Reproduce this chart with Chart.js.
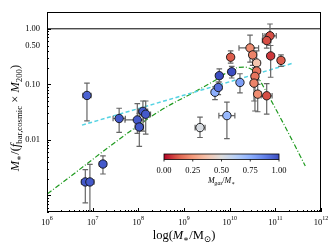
<!DOCTYPE html>
<html><head><meta charset="utf-8">
<script src="https://cdn.jsdelivr.net/npm/chart.js@4"></script>
<style>html,body{margin:0;padding:0;background:#fff;}#wrap{width:329px;height:248px;position:relative;}</style>
</head><body><div id="wrap"><canvas id="c" width="329" height="248"></canvas></div>
<script>
// ---- data ----
const stellarMass   = [7.5e6, 6.9e6, 8.7e6, 1.68e7, 3.8e7, 9.5e7, 1.26e8, 1.45e8, 1.05e8, 2.24e9, 8.7e9, 4.77e9, 5.64e9, 5.93e9, 1.11e10, 1.68e10, 1.05e10, 2.79e10, 3.19e10, 3.9e10, 3.9e10, 3.58e10, 3.41e10, 4.11e10, 6.47e10, 7.64e10, 6.47e10, 7.9e10, 1.33e11];
const stellarMassLo = [6.1e6, 5.7e6, 7.1e6, 1.4e7, 2.8e7, 5.1e7, 1.0e8, 1.15e8, 8.5e7, 1.75e9, 5.8e9, 4.0e9, 4.8e9, 5.0e9, 9.3e9, 1.45e10, 9.0e9, 1.6e10, 2.7e10, 3.3e10, 3.3e10, 3.0e10, 2.9e10, 3.5e10, 4.9e10, 5.3e10, 5.2e10, 6.7e10, 1.13e11];
const stellarMassHi = [9.2e6, 8.4e6, 1.07e7, 2.0e7, 5.2e7, 1.3e8, 1.6e8, 1.85e8, 1.3e8, 2.9e9, 1.3e10, 5.7e9, 6.7e9, 7.0e9, 1.33e10, 1.95e10, 1.22e10, 4.3e10, 3.8e10, 4.6e10, 4.6e10, 4.2e10, 4.0e10, 4.9e10, 8.5e10, 1.05e11, 8.0e10, 9.3e10, 1.57e11];
const ratio   = [0.063, 0.00174, 0.00174, 0.00366, 0.0242, 0.0228, 0.0325, 0.0289, 0.0170, 0.0166, 0.0273, 0.0719, 0.0877, 0.143, 0.168, 0.108, 0.308, 0.452, 0.338, 0.242, 0.174, 0.139, 0.105, 0.0665, 0.0621, 0.748, 0.614, 0.325, 0.270];
const ratioLo = [0.022, 0.00073, 0.0002, 0.00242, 0.0136, 0.013, 0.0143, 0.0127, 0.0076, 0.011, 0.0105, 0.053, 0.065, 0.11, 0.13, 0.07, 0.24, 0.25, 0.22, 0.12, 0.12, 0.033, 0.05, 0.032, 0.029, 0.5, 0.45, 0.134, 0.21];
const ratioHi = [0.105, 0.0029, 0.0036, 0.00515, 0.037, 0.045, 0.05, 0.05, 0.03, 0.0257, 0.0476, 0.09, 0.11, 0.19, 0.21, 0.155, 0.40, 0.77, 0.45, 0.40, 0.24, 0.20, 0.15, 0.10, 0.103, 1.22, 0.80, 0.50, 0.34];
const gasFraction = [0.95, 0.97, 0.97, 0.97, 0.97, 0.97, 0.97, 0.97, 0.97, 0.52, 0.72, 0.75, 0.92, 1.0, 1.0, 0.8, 0.12, 0.22, 0.2, 0.38, 0.17, 0.17, 0.2, 0.22, 0.1, 0.1, 0.1, 0.07, 0.12];

const cyanLineMass  = [5.83e6, 2.37e11];
const cyanLineRatio = [0.01837, 0.239];
const greenCurveMass  = [1.026e6, 2.98e8, 1.742e9, 6.14e9, 1.016e10, 1.52e10, 2.16e10, 2.79e10, 3.58e10, 4.61e10, 1.07e11, 2.09e11, 4.53e11];
const greenCurveRatio = [1.069e-3, 0.0333, 0.0736, 0.1337, 0.178, 0.2004, 0.204, 0.192, 0.1644, 0.1172, 0.0333, 0.01172, 0.00338];
const unityLineMass  = [1e6, 1e12];
const unityLineRatio = [1, 1];

const xTickExponents = [6, 7, 8, 9, 10, 11, 12];
const yTickValues = [0.01, 0.1, 0.5, 1];
const yTickLabels = ['0.01', '0.10', '0.50', '1.00'];
const colorbarTicks = [0, 0.25, 0.5, 0.75, 1];
const colorbarTickLabels = ['0.00', '0.25', '0.50', '0.75', '1.00'];

// ---- styling ----
const SERIF = '"Liberation Serif", "DejaVu Serif", serif';
const coolwarm = [[59,76,192],[98,130,234],[141,176,254],[184,208,249],[221,221,221],[245,196,173],[244,154,123],[222,96,77],[180,4,38]];
function cmap(v) { // coolwarm reversed: 0 -> red, 1 -> blue
  const t = Math.min(1, Math.max(0, 1 - v)) * (coolwarm.length - 1);
  const i = Math.min(coolwarm.length - 2, Math.floor(t)), f = t - i;
  const a = coolwarm[i], b = coolwarm[i + 1];
  return `rgb(${a.map((c, k) => Math.round(c + (b[k] - c) * f)).join(',')})`;
}
const pts = (xs, ys) => xs.map((x, i) => ({x, y: ys[i]}));

function segFont(st, size) {
  const small = st.includes('sub') || st.includes('sup');
  const it = st.startsWith('i');
  return `${it ? 'italic ' : ''}${(small ? size * 0.7 : size).toFixed(2)}px ${SERIF}`;
}
function richWidth(ctx, segs, size) {
  let w = 0;
  for (const [t, st] of segs) { ctx.font = segFont(st, size); w += ctx.measureText(t).width; }
  return w;
}
function drawRich(ctx, segs, size, cx, baseline) {
  let x = cx - richWidth(ctx, segs, size) / 2;
  ctx.textAlign = 'left'; ctx.textBaseline = 'alphabetic';
  for (const [t, st] of segs) {
    ctx.font = segFont(st, size);
    let dy = 0;
    if (st.includes('sub')) dy = size * 0.22;
    if (st.includes('sup')) dy = -size * 0.38;
    ctx.fillText(t, x, baseline + dy);
    x += ctx.measureText(t).width;
  }
}

const errorBars = {
  id: 'errorBars',
  beforeDatasetDraw(chart, args) {
    if (args.index !== 0) return;
    const {ctx, chartArea: a, scales: {x, y}} = chart;
    ctx.save();
    ctx.beginPath(); ctx.rect(a.left, a.top, a.width, a.height); ctx.clip();
    ctx.strokeStyle = '#666'; ctx.lineWidth = 1.2;
    const cap = 2.8;
    stellarMass.forEach((m, i) => {
      const px = x.getPixelForValue(m), py = y.getPixelForValue(ratio[i]);
      const x0 = x.getPixelForValue(stellarMassLo[i]), x1 = x.getPixelForValue(stellarMassHi[i]);
      const y0 = y.getPixelForValue(ratioLo[i]), y1 = y.getPixelForValue(ratioHi[i]);
      ctx.beginPath();
      ctx.moveTo(x0, py); ctx.lineTo(x1, py);
      ctx.moveTo(px, y0); ctx.lineTo(px, y1);
      ctx.moveTo(x0, py - cap); ctx.lineTo(x0, py + cap);
      ctx.moveTo(x1, py - cap); ctx.lineTo(x1, py + cap);
      ctx.moveTo(px - cap, y0); ctx.lineTo(px + cap, y0);
      ctx.moveTo(px - cap, y1); ctx.lineTo(px + cap, y1);
      ctx.stroke();
    });
    ctx.restore();
  }
};

const decorations = {
  id: 'decorations',
  afterDraw(chart) {
    const {ctx, chartArea: a, scales: {x, y}} = chart;
    ctx.save();
    ctx.strokeStyle = '#000'; ctx.lineWidth = 1;
    ctx.strokeRect(Math.round(a.left) + 0.5, Math.round(a.top) + 0.5, Math.round(a.width) - 1, Math.round(a.height) - 1);
    ctx.beginPath();
    for (let e = 6; e <= 12; e++) {
      for (let k = 1; k <= 9; k++) {
        const v = k * Math.pow(10, e);
        if (v > 1e12 * 1.0001) break;
        const px = Math.round(x.getPixelForValue(v)) + 0.5;
        const len = k === 1 ? 4 : 2;
        ctx.moveTo(px, a.bottom); ctx.lineTo(px, a.bottom - len);
      }
    }
    for (let e = -4; e <= 0; e++) {
      for (let k = 1; k <= 9; k++) {
        const v = k * Math.pow(10, e);
        if (v < 5e-4 || v > 2.0001) continue;
        const py = Math.round(y.getPixelForValue(v)) + 0.5;
        const len = k === 1 ? 4 : 2;
        ctx.moveTo(a.left, py); ctx.lineTo(a.left + len, py);
      }
    }
    ctx.stroke();
    ctx.fillStyle = '#000';
    xTickExponents.forEach(e => {
      const px = x.getPixelForValue(Math.pow(10, e));
      ctx.font = `8.5px ${SERIF}`;
      const w1 = ctx.measureText('10').width;
      ctx.font = `6px ${SERIF}`;
      const w2 = ctx.measureText(String(e)).width;
      const left = px - (w1 + w2) / 2;
      ctx.textAlign = 'left'; ctx.textBaseline = 'alphabetic';
      ctx.font = `8.5px ${SERIF}`; ctx.fillText('10', left, 224.5);
      ctx.font = `6px ${SERIF}`; ctx.fillText(String(e), left + w1, 220);
    });
    drawRich(ctx, [['log(', 'r'], ['M', 'i'], ['∗', 'rsub'], ['/M', 'r'], ['⊙', 'rsub'], [')', 'r']], 12.5, (a.left + a.right) / 2, 239);
    ctx.save();
    ctx.translate(15, 118); ctx.rotate(-Math.PI / 2);
    drawRich(ctx, [['M', 'i'], ['∗', 'rsub'], ['/(', 'r'], ['f', 'i'], ['bar,cosmic', 'rsub'], [' × ', 'r'], ['M', 'i'], ['200', 'rsub'], [')', 'r']], 12.5, 0, 4);
    ctx.restore();
    const cbL = 164, cbR = 279, cbT = 154, cbB = 159.5;
    const g = ctx.createLinearGradient(cbL, 0, cbR, 0);
    for (let i = 0; i <= 20; i++) g.addColorStop(i / 20, cmap(i / 20));
    ctx.fillStyle = g; ctx.fillRect(cbL, cbT, cbR - cbL, cbB - cbT);
    ctx.strokeStyle = '#000'; ctx.lineWidth = 0.8;
    ctx.strokeRect(cbL, cbT, cbR - cbL, cbB - cbT);
    ctx.beginPath();
    colorbarTicks.forEach(t => { const px = cbL + t * (cbR - cbL); ctx.moveTo(px, cbB); ctx.lineTo(px, cbB + 2); });
    ctx.stroke();
    ctx.fillStyle = '#000'; ctx.textAlign = 'center'; ctx.textBaseline = 'alphabetic';
    ctx.font = `8.5px ${SERIF}`;
    colorbarTicks.forEach((t, i) => ctx.fillText(colorbarTickLabels[i], cbL + t * (cbR - cbL), 172.5));
    drawRich(ctx, [['M', 'i'], ['gas', 'isub'], ['/', 'r'], ['M', 'i'], ['∗', 'rsub']], 8, (cbL + cbR) / 2, 183);
    ctx.restore();
  }
};

new Chart(document.getElementById('c'), {
  type: 'scatter',
  data: {
    datasets: [
      {type: 'scatter', data: pts(stellarMass, ratio), pointRadius: 4.2, pointBackgroundColor: gasFraction.map(cmap), pointBorderColor: '#111', pointBorderWidth: 0.9},
      {type: 'line', data: pts(cyanLineMass, cyanLineRatio), borderColor: '#55d3e3', borderWidth: 1.5, borderDash: [4, 2.5], pointRadius: 0, fill: false},
      {type: 'line', data: pts(greenCurveMass, greenCurveRatio), borderColor: '#1f9a1f', borderWidth: 1.2, borderDash: [5, 2, 1, 2], pointRadius: 0, fill: false, cubicInterpolationMode: 'monotone'},
      {type: 'line', data: pts(unityLineMass, unityLineRatio), borderColor: '#000', borderWidth: 1, pointRadius: 0, fill: false}
    ]
  },
  options: {
    animation: false, responsive: false, events: [],
    layout: {padding: {left: 0, right: 8, top: 4, bottom: 0}},
    plugins: {legend: {display: false}, tooltip: {enabled: false}},
    scales: {
      x: {type: 'logarithmic', min: 1e6, max: 1e12,
          grid: {display: false, drawTicks: false}, border: {display: false},
          ticks: {display: false}, afterFit(s) { s.height = 36; }},
      y: {type: 'logarithmic', min: 5e-4, max: 2,
          grid: {display: false, drawTicks: false}, border: {display: false},
          afterBuildTicks(s) { s.ticks = yTickValues.map(v => ({value: v})); },
          ticks: {autoSkip: false, callback: (v, i) => yTickLabels[i], font: {family: SERIF, size: 8.5}, color: '#000', padding: 7},
          afterFit(s) { s.width = 47; }}
    }
  },
  plugins: [errorBars, decorations]
});
</script></body></html>
